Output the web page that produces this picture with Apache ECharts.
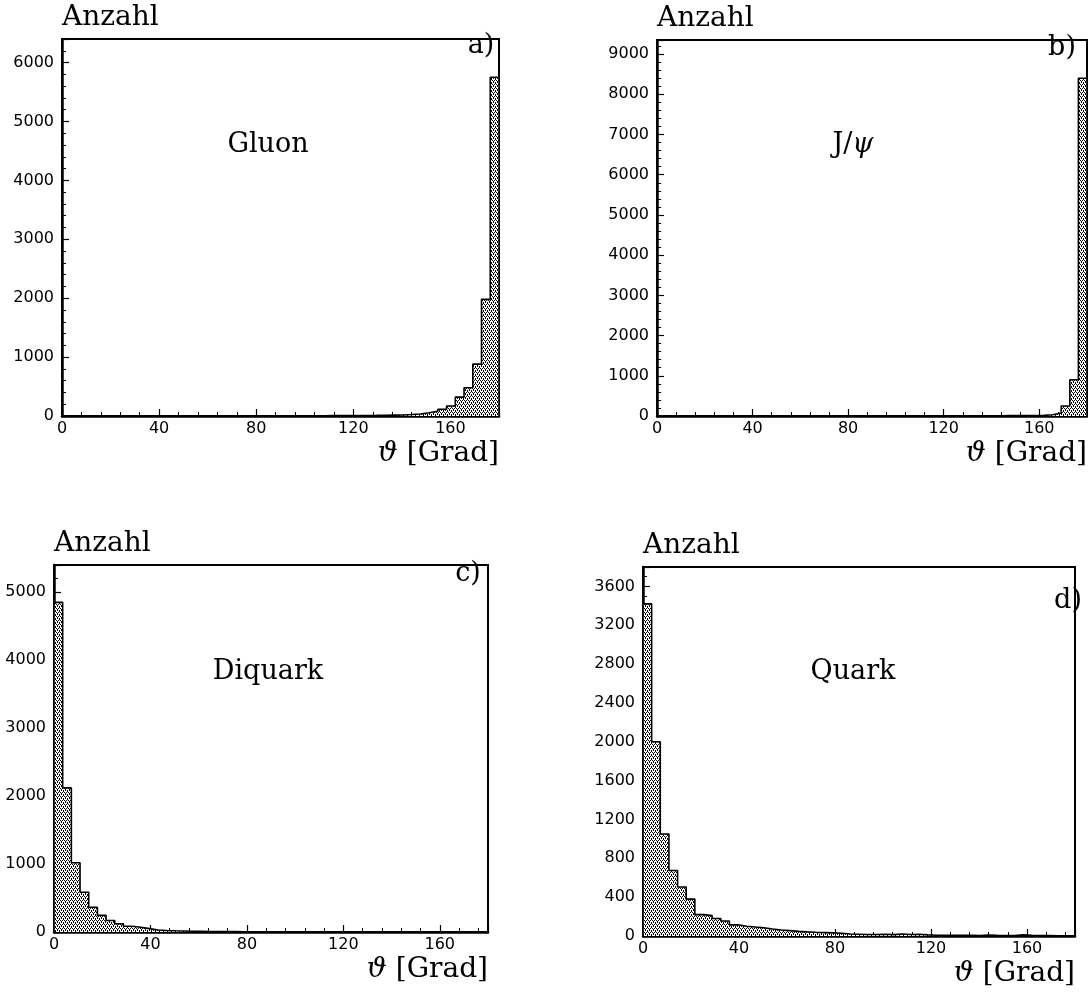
<!DOCTYPE html>
<html><head><meta charset="utf-8">
<script src="https://cdn.jsdelivr.net/npm/echarts@6/dist/echarts.min.js"></script>
<style>html,body{margin:0;padding:0;background:#fff}#c{width:1088px;height:1006px}</style>
</head><body><div id="c"></div>
<script>
// ---- data: 50 bins of 3.6 degrees from 0 to 180 ----
const binWidth = 3.6;
const xTickLabels = ['0', '40', '80', '120', '160'];
const gluon = [5,3,4,3,2, 3,2,3,2,2, 2,3,2,2,3, 2,3,2,3,2, 3,3,2,3,4, 3,4,4,5,5, 6,6,7,8,9, 10,12,15,18,25, 35,55,80,115,170, 320,480,880,1980,5750];
const jpsi = [4,3,3,2,3, 2,3,2,2,3, 2,2,3,2,2, 3,2,2,3,2, 2,3,2,2,3, 3,2,3,3,4, 3,4,4,5,5, 5,6,7,8,8, 9,10,10,12,15, 30,75,250,900,8400];
const diquark = [4850,2120,1020,585,365, 245,170,122,85,70, 50,30,22,18,15, 12,10,8,7,6, 5,4,4,3,3, 3,2,2,2,2, 2,2,2,1,1, 1,1,1,1,1, 1,1,1,1,1, 1,1,1,1,1];
const quark = [3420,2000,1050,675,505, 380,220,210,180,155, 115,100,92,85,72, 62,55,48,42,38, 35,32,28,20,18, 15,15,18,14,20, 15,18,12,8,6, 6,8,6,4,10, 6,5,4,12,8, 5,4,3,3,2];
const panelNames = ['Gluon', 'J/{i|ψ}', 'Diquark', 'Quark'];
const panelTags = ['a)', 'b)', 'c)', 'd)'];
const yMaxes = [6400, 9350, 5400, 3800];
const yIntervals = [1000, 1000, 1000, 400];
const yMinorSplits = [5, 5, 5, 4];

// ---- layout ----
const grids = [
  {left: 62, top: 39, width: 437, height: 377},
  {left: 657, top: 40, width: 434, height: 376},
  {left: 54, top: 565, width: 434, height: 367},
  {left: 643, top: 567, width: 432, height: 369}
];
const nameCenters = [[268, 145], [853, 145], [268, 672], [853, 672]];
const tagCenters = [[481, 46], [1062, 48], [468, 574], [1068, 601]];

// stipple pattern
const pc = document.createElement('canvas');
pc.width = 4; pc.height = 4;
const g = pc.getContext('2d');
g.fillStyle = '#fff'; g.fillRect(0, 0, 4, 4);
g.fillStyle = '#000';
[[0,0],[2,0],[1,1],[1,2],[3,2],[3,3]].forEach(p => g.fillRect(p[0], p[1], 1, 1));
const pattern = {image: pc, repeat: 'repeat'};

function stepData(vals) {
  const pts = [[0, 0]];
  vals.forEach((v, i) => pts.push([i * binWidth, v]));
  const end = vals.length * binWidth;
  pts.push([end, vals[vals.length - 1]]);
  pts.push([end, 0]);
  return pts;
}

const serif = 'DejaVu Serif';
const sans = 'DejaVu Sans';
const allData = [gluon, jpsi, diquark, quark];

const option = {
  animation: false,
  backgroundColor: '#fff',
  grid: grids.map(gr => Object.assign({show: true, borderColor: '#000', borderWidth: 2, backgroundColor: 'transparent'}, gr)),
  xAxis: grids.map((gr, k) => ({
    type: 'value', gridIndex: k, min: 0, max: 180, interval: 40,
    axisLine: {show: true, lineStyle: {color: '#000', width: 2.5}},
    axisTick: {show: true, inside: true, length: 7, lineStyle: {color: '#000', width: 1.2}},
    minorTick: {show: true, splitNumber: 5, length: 4, lineStyle: {color: '#000', width: 1}},
    splitLine: {show: false},
    axisLabel: {show: true, showMaxLabel: false, color: '#000', fontFamily: sans, fontSize: 16, margin: 5,
      formatter: v => xTickLabels[Math.round(v / 40)] || ''},
    name: '{i|ϑ} [Grad]', nameLocation: 'end', nameGap: 0,
    nameTextStyle: {fontFamily: serif, fontSize: 28, color: '#000', align: 'right', verticalAlign: 'top',
      padding: [24, 0, 0, 0], rich: {i: {fontFamily: serif, fontStyle: 'italic', fontSize: 28, color: '#000'}}}
  })),
  yAxis: grids.map((gr, k) => ({
    type: 'value', gridIndex: k, min: 0, max: yMaxes[k], interval: yIntervals[k],
    axisLine: {show: true, lineStyle: {color: '#000', width: 2.5}},
    axisTick: {show: true, inside: true, length: 7, lineStyle: {color: '#000', width: 1.2}},
    minorTick: {show: true, splitNumber: yMinorSplits[k], length: 4, lineStyle: {color: '#000', width: 1}},
    splitLine: {show: false},
    axisLabel: {show: true, showMaxLabel: false, color: '#000', fontFamily: sans, fontSize: 16, margin: 8,
      formatter: v => String(v)},
    name: 'Anzahl', nameLocation: 'end', nameGap: 7,
    nameTextStyle: {fontFamily: serif, fontSize: 28, color: '#000', align: 'left', verticalAlign: 'bottom'}
  })),
  series: allData.map((vals, k) => ({
    type: 'line', xAxisIndex: k, yAxisIndex: k, step: 'end', symbol: 'none',
    data: stepData(vals),
    lineStyle: {color: '#000', width: 1.6},
    areaStyle: {color: pattern, opacity: 1},
    z: 3
  })),
  graphic: [].concat(
    panelNames.map((t, k) => ({
      type: 'text', x: nameCenters[k][0], y: nameCenters[k][1], z: 10,
      style: {text: t, fill: '#000', font: '27px "DejaVu Serif"', align: 'center', verticalAlign: 'middle',
        rich: {i: {fontFamily: serif, fontStyle: 'italic', fontSize: 27, fill: '#000'}}}
    })),
    panelTags.map((t, k) => ({
      type: 'text', x: tagCenters[k][0], y: tagCenters[k][1], z: 10,
      style: {text: t, fill: '#000', font: '27px "DejaVu Serif"', align: 'center', verticalAlign: 'middle'}
    }))
  )
};

const chart = echarts.init(document.getElementById('c'), null, {renderer: 'canvas'});
chart.setOption(option);
</script>
</body></html>
